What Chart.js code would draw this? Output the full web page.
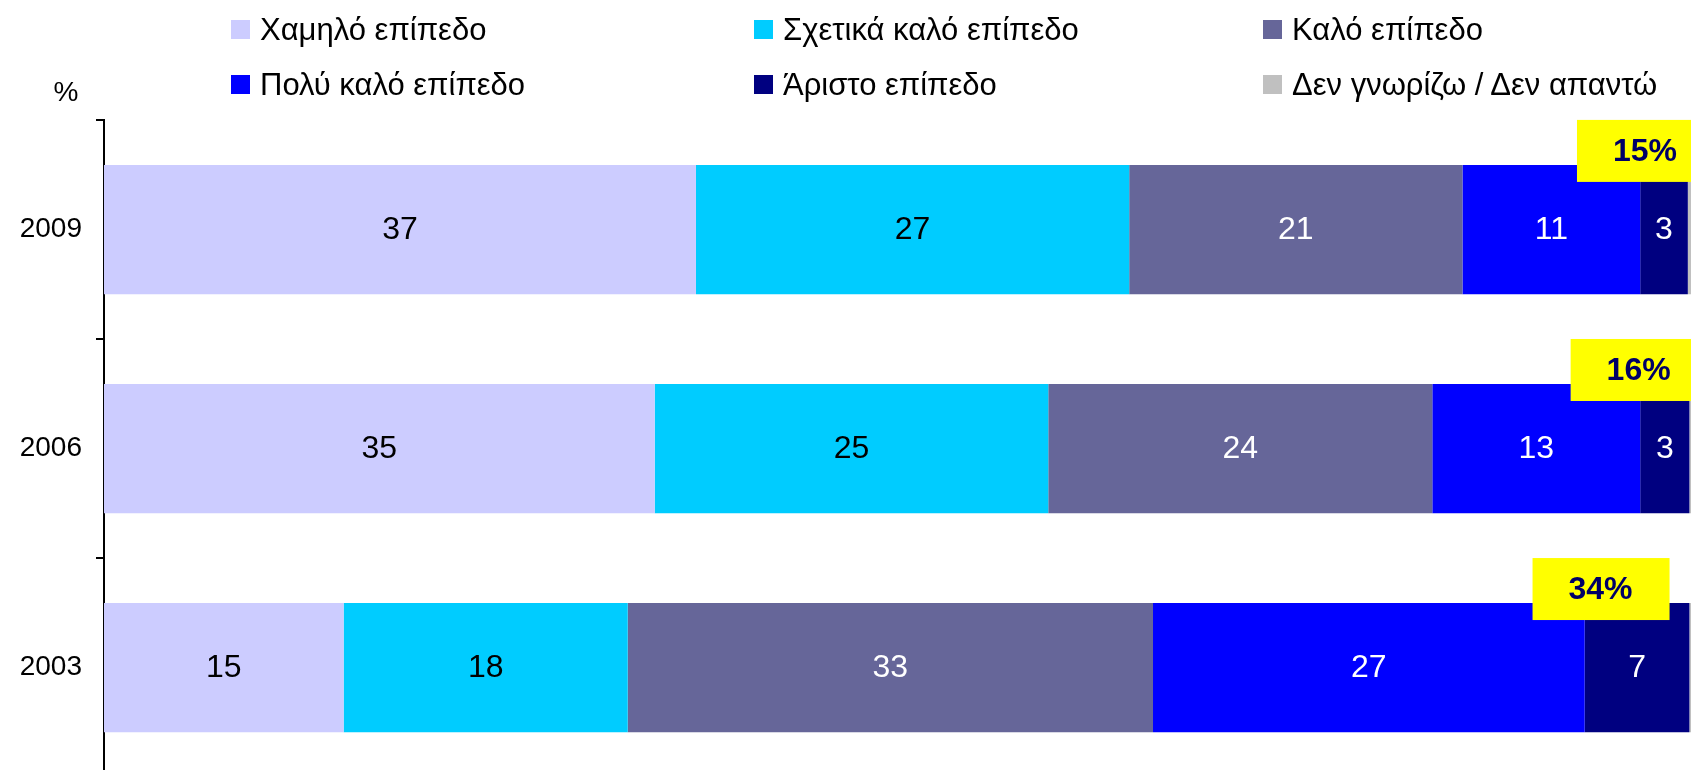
<!DOCTYPE html>
<html>
<head>
<meta charset="utf-8">
<script src="https://cdn.jsdelivr.net/npm/chart.js@4"></script>
<style>
  html, body { margin: 0; padding: 0; background: #fff; overflow: hidden; }
  #wrap { position: relative; width: 1691px; height: 808px; }
  #legend {
    position: absolute; left: 231px; top: 2px;
    display: grid; grid-template-columns: 523px 509px auto;
    grid-auto-rows: 55px;
    font-family: 'Liberation Sans', Arial, sans-serif; font-size: 31px; color: #000;
  }
  .item { display: flex; align-items: center; white-space: nowrap; }
  .box { width: 19px; height: 19px; margin-right: 10px; }
</style>
</head>
<body>
<div id="wrap">
  <canvas id="plot" width="1691" height="808"></canvas>
  <div id="legend"></div>
</div>
<script>
const font = "'Liberation Sans', Arial, sans-serif";

// years, top to bottom
const years = ['2009', '2006', '2003'];

// % per level (labels are the rounded values)
const low      = [37.3, 34.7, 15.1];
const fairGood = [27.3, 24.8, 17.9];
const good     = [21.0, 24.2, 33.1];
const veryGood = [11.2, 13.1, 27.2];
const best     = [3.0, 3.1, 6.6];
const dkna     = [0.2, 0.1, 0.1];

// yellow call-outs: very good + excellent
const topShare = ['15%', '16%', '34%'];
const topShareAt = [97.1, 96.7, 94.3];

const seriesNames = ['Χαμηλό επίπεδο', 'Σχετικά καλό επίπεδο', 'Καλό επίπεδο',
                     'Πολύ καλό επίπεδο', 'Άριστο επίπεδο', 'Δεν γνωρίζω / Δεν απαντώ'];
const seriesColors = ['#CCCCFF', '#00CCFF', '#666699', '#0000FF', '#000080', '#C0C0C0'];
const labelColors = ['#000', '#000', '#fff', '#fff', '#fff', '#000'];
const seriesData = [low, fairGood, good, veryGood, best, dkna];

const barLabels = {
    id: 'barLabels',
    afterDatasetsDraw(chart) {
        const c = chart.ctx;
        c.save();
        c.font = '32px ' + font;
        c.textAlign = 'center';
        c.textBaseline = 'middle';
        chart.data.datasets.forEach((ds, di) => {
            if (di === 5) return;
            chart.getDatasetMeta(di).data.forEach((el, i) => {
                const v = ds.data[i];
                if (v < 1) return;
                const p = el.getCenterPoint();
                c.fillStyle = labelColors[di];
                c.fillText(Math.round(v), p.x, p.y + 1);
            });
        });
        c.restore();
    }
};

const callouts = {
    id: 'callouts',
    afterDatasetsDraw(chart) {
        const c = chart.ctx;
        const xs = chart.scales.x;
        const bars = chart.getDatasetMeta(0).data;
        c.save();
        c.font = 'bold 32px ' + font;
        c.textAlign = 'center';
        c.textBaseline = 'middle';
        topShare.forEach((txt, i) => {
            const cx = xs.getPixelForValue(topShareAt[i]);
            const top = bars[i].y - bars[i].height / 2;
            c.fillStyle = '#FFFF00';
            c.fillRect(cx - 68, top - 45, 137, 62);
            c.fillStyle = '#000066';
            c.fillText(txt, cx, top - 13);
        });
        // unit label above the axis
        c.font = '28px ' + font;
        c.fillStyle = '#000';
        c.fillText('%', chart.chartArea.left - 38, chart.chartArea.top - 27);
        c.restore();
    }
};

const ctx = document.getElementById('plot');

var chart = new Chart(ctx, {
    type: 'bar',
    data: {
        labels: years,
        datasets: seriesData.map((d, i) => ({
            label: seriesNames[i],
            data: d,
            backgroundColor: seriesColors[i],
            borderWidth: 0,
            barPercentage: 0.59,
            categoryPercentage: 1
        }))
    },
    options: {
        indexAxis: 'y',
        responsive: false,
        animation: false,
        devicePixelRatio: 1,
        layout: { padding: { top: 120, left: 0, right: 0, bottom: 0 } },
        plugins: {
            legend: { display: false },
            tooltip: { enabled: false }
        },
        scales: {
            x: { stacked: true, min: 0, max: 100, display: false },
            y: {
                stacked: true,
                grid: {
                    offset: true, drawOnChartArea: false, drawTicks: true,
                    tickLength: 8, color: '#000', lineWidth: 2
                },
                border: { color: '#000', width: 2 },
                ticks: { color: '#000', font: { size: 28, family: font }, padding: 14 },
                afterFit(scale) { scale.width = 104; }
            }
        }
    },
    plugins: [barLabels, callouts]
});

// html legend in three columns
const lg = document.getElementById('legend');
seriesNames.forEach((name, i) => {
    const item = document.createElement('div');
    item.className = 'item';
    item.innerHTML = '<span class="box" style="background:' + seriesColors[i] + '"></span>' + name;
    lg.appendChild(item);
});
</script>
</body>
</html>
